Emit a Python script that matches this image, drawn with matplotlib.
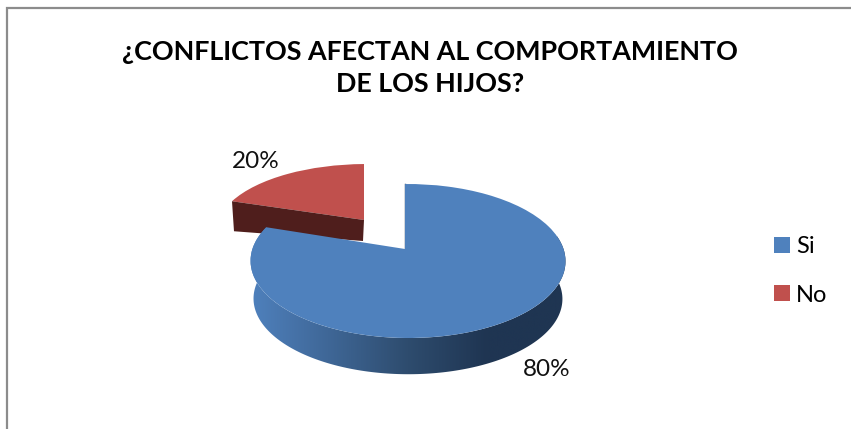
import numpy as np
import matplotlib
matplotlib.use("Agg")
import matplotlib.pyplot as plt
from matplotlib.colors import LinearSegmentedColormap
from matplotlib.patches import Polygon
from matplotlib.transforms import Transform

title = "¿CONFLICTOS AFECTAN AL COMPORTAMIENTO\nDE LOS HIJOS?"
labels = ["Si", "No"]
values = [80, 20]
colors = ["#4F81BD", "#C0504D"]

plt.rcParams["font.family"] = ["Lato", "DejaVu Sans"]


# tilted disc look: maps the unit circle of the pie to a pixel ellipse
class Tilt(Transform):
    input_dims = 2
    output_dims = 2

    def __init__(self, x0, y0, a, b, k=0.156, m=-0.019):
        super().__init__()
        self.p = (x0, y0, a, b, k, m)

    def transform_non_affine(self, pts):
        x0, y0, a, b, k, m = self.p
        pts = np.asarray(pts, dtype=float)
        u, v = pts[:, 0], pts[:, 1]
        w = 1 + k * v + m * u
        return np.column_stack([x0 + a * u / w, y0 - b * v / w])


def rim(tilt, deg):
    t = np.radians(deg)
    return tilt.transform_non_affine(np.column_stack([np.cos(t), np.sin(t)]))


fig = plt.figure(figsize=(8.51, 4.29), dpi=100)
ax = fig.add_axes([0, 0, 1, 1])
wedges, _ = ax.pie(values, colors=colors, startangle=90, counterclock=False, radius=1)

blue, red = wedges
blue_top = Tilt(405, 249, 155.5, 75.1)
blue_low = Tilt(405, 287, 152.5, 73.6)
red_top = Tilt(364, 220, 148, 64.7)

blue.set_transform(blue_top + ax.transData)
red.set_transform(red_top + ax.transData)
blue.set_zorder(5)
red.set_zorder(2)
blue.set_linewidth(0)
red.set_linewidth(0)

# red side wall
r_edge = rim(red_top, np.array([red.theta2]))[0]
r_apex = red_top.transform_non_affine(np.array([[0.0, 0.0]]))[0]
wall = [r_apex, r_edge, r_edge + [2, 30], r_apex + [-1, 21]]
ax.add_patch(Polygon(wall, closed=True, fc="#4F1E1C", ec="none", zorder=3))

# blue side wall, shaded from left to right
deg = np.linspace(blue.theta1, 10, 200)
wall = np.vstack([rim(blue_top, deg), rim(blue_low, deg)[::-1]])
poly = Polygon(wall, closed=True, fc="none", ec="none", zorder=4)
ax.add_patch(poly)
shade = LinearSegmentedColormap.from_list(
    "shade", [(0, "#4F81BD"), (0.17, "#446FA3"), (0.5, "#2E4C6E"),
              (0.75, "#1F3552"), (1, "#1F3552")])
im = ax.imshow(np.linspace(0, 1, 256)[None, :], cmap=shade, aspect="auto",
               extent=(250, 566, 380, 180), zorder=4)
im.set_clip_path(poly)

# inner edge of the gap
top_pt = blue_top.transform_non_affine(np.array([[0.0, 1.0]]))[0]
b_apex = blue_top.transform_non_affine(np.array([[0.0, 0.0]]))[0]
ax.plot([top_pt[0], b_apex[0]], [top_pt[1], b_apex[1]], color="#1F3552", lw=1, zorder=4)

ax.set_aspect("auto")
ax.set_xlim(0, 851)
ax.set_ylim(429, 0)
ax.axis("off")

# chart border, cut off by the screenshot on the other sides
ax.plot([7, 7, 851], [429, 8, 8], color="#8C8C8C", lw=1.6, solid_joinstyle="miter", zorder=1)

ax.text(430, 68, title, ha="center", va="center", fontsize=19.4, fontweight="bold",
        color="black", linespacing=1.45)
ax.text(256, 161, f"{values[1]}%", ha="center", va="center", fontsize=17.5, color="#111111")
ax.text(547, 370, f"{values[0]}%", ha="center", va="center", fontsize=17.5, color="#111111")

ax.legend(wedges, labels, loc="center left", bbox_to_anchor=(774 / 851, 1 - 271 / 429),
          frameon=False, fontsize=17, handlelength=0.68, handleheight=0.68,
          handletextpad=0.25, labelspacing=1.15, borderpad=0, borderaxespad=0)

fig.savefig("out.png", dpi=100)
